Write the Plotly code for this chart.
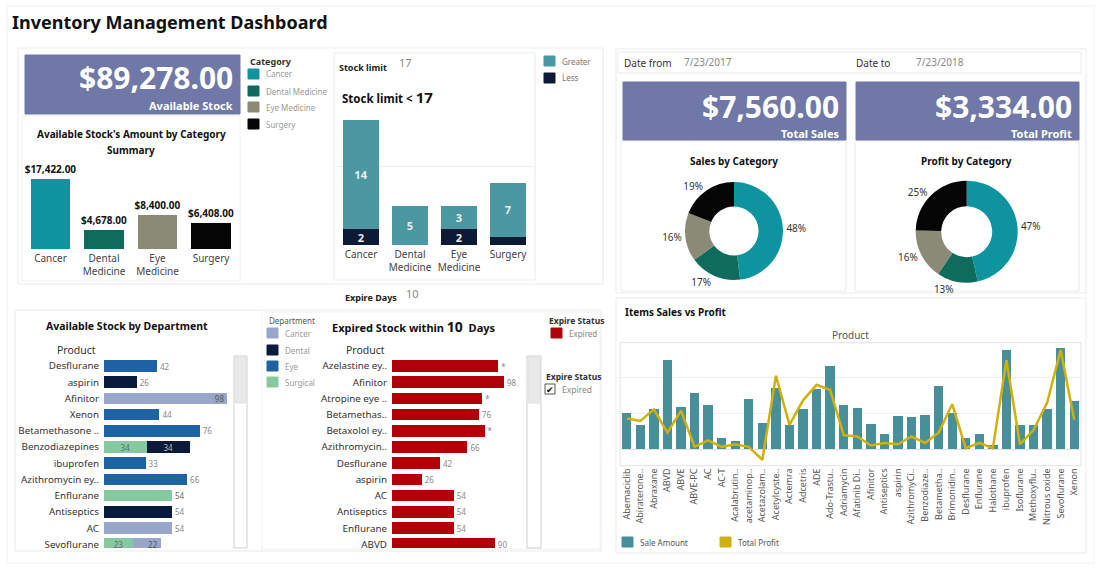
import plotly.graph_objects as go

W, H = 1100, 570
FONT = "Noto Sans"

# ---------------- data ----------------
cat_names = ["Cancer", "Dental<br>Medicine", "Eye<br>Medicine", "Surgery"]
cat_stock = [17422, 4678, 8400, 6408]
cat_stock_labels = ["$17,422.00", "$4,678.00", "$8,400.00", "$6,408.00"]

limit_greater = [14, 5, 3, 7]
limit_less = [2, 0, 2, 1]
limit_greater_labels = ["14", "5", "3", "7"]
limit_less_labels = ["2", "", "2", ""]

dept_products = ["Desflurane", "aspirin", "Afinitor", "Xenon", "Betamethasone ..",
                 "Benzodiazepines", "ibuprofen", "Azithromycin ey..", "Enflurane",
                 "Antiseptics", "AC", "Sevoflurane"]
dept_surgical = [None, None, None, None, None, 34, None, None, 54, None, None, 23]
dept_cancer = [None, None, 98, None, None, None, None, None, None, None, 54, 22]
dept_dental = [None, 26, None, None, None, 34, None, None, None, 54, None, None]
dept_eye = [42, None, None, 44, 76, None, 33, 66, None, None, None, None]

exp_products = ["Azelastine ey..", "Afinitor", "Atropine eye ..", "Betamethas..",
                "Betaxolol ey..", "Azithromycin..", "Desflurane", "aspirin", "AC",
                "Antiseptics", "Enflurane", "ABVD"]
exp_values = [93, 98, 79, 76, 81, 66, 42, 26, 54, 54, 54, 90]
exp_labels = ["*", "98", "*", "76", "*", "66", "42", "26", "54", "54", "54", "90"]

pie_labels = ["Cancer", "Dental Medicine", "Eye Medicine", "Surgery"]
sales_by_cat = [3629, 1285, 1210, 1436]
profit_by_cat = [1552, 430, 532, 820]

combo_products = ["Abemaciclib", "Abiraterone..", "Abraxane", "ABVD", "ABVE", "ABVE-PC",
                  "AC", "AC-T", "Acalabrutin..", "acetaminop..", "Acetazolam..",
                  "Acetylcyste..", "Actemra", "Adcetris", "ADE", "Ado-Trastu..",
                  "Adriamycin", "Afatinib Di..", "Afinitor", "Antiseptics", "aspirin",
                  "AzithromyCi..", "Benzodiaze..", "Betametha..", "Brimonidin..",
                  "Desflurane", "Enflurane", "Halothane", "ibuprofen", "Isoflurane",
                  "Methoxyflu..", "Nitrous oxide", "Sevoflurane", "Xenon"]
combo_sales = [200, 135, 225, 495, 235, 315, 245, 65, 45, 280, 145, 340, 135, 225,
               335, 465, 245, 230, 140, 85, 185, 180, 190, 350, 200, 65, 85, 25,
               550, 135, 135, 225, 565, 270]
combo_profit = [120, 110, 155, 65, 150, 10, 35, 10, 20, 10, -40, 285, 95, 190, 250,
                230, 55, 50, 15, 25, 20, 50, 25, 65, 175, 5, 25, 5, 345, 20, 75,
                180, 385, 115]

# ---------------- styles ----------------
KPI = "#6f78a6"
CAT_COLORS = ["#0e949f", "#0f6b5b", "#8a8a76", "#050505"]
GREATER, LESS = "#4b97a2", "#0c1a36"
D_CANCER, D_DENTAL, D_EYE, D_SURG = "#98a6cc", "#0a1a3a", "#1f62a3", "#85c9a1"
RED = "#b00008"
BAR_TEAL, GOLD = "#478f99", "#d0b00a"
GRAYTXT, DARK = "#9a9a9a", "#333333"


def X(px):
    return px / W


def Y(py):
    return 1 - py / H


def dx(a, b):
    return [X(a), X(b)]


def dy(top, bottom):
    return [Y(bottom), Y(top)]


fig = go.Figure()

# category chart
fig.add_trace(go.Bar(x=cat_names, y=cat_stock, marker=dict(color=CAT_COLORS, line=dict(width=0)),
                     width=0.73, text=cat_stock_labels, textposition="outside", cliponaxis=False,
                     constraintext="none", textangle=0,
                     textfont=dict(size=10, color="#111", family=FONT, weight="bold"),
                     xaxis="x", yaxis="y", showlegend=False))

# stock limit
fig.add_trace(go.Bar(x=cat_names, y=limit_less, marker=dict(color=LESS, line=dict(width=0)), width=0.735,
                     text=limit_less_labels, textposition="inside", insidetextanchor="middle",
                     constraintext="none", textangle=0,
                     textfont=dict(size=11, color="#e8e8e8", family=FONT, weight="bold"),
                     xaxis="x2", yaxis="y2", showlegend=False))
fig.add_trace(go.Bar(x=cat_names, y=limit_greater, marker=dict(color=GREATER, line=dict(width=0)), width=0.735,
                     text=limit_greater_labels, textposition="inside", insidetextanchor="middle",
                     constraintext="none", textangle=0,
                     textfont=dict(size=11, color="#eeeeee", family=FONT, weight="bold"),
                     xaxis="x2", yaxis="y2", showlegend=False))


def dept_trace(vals, color, positions, tcolors, anchor="middle"):
    txt = ["" if v is None else str(v) for v in vals]
    return go.Bar(y=dept_products, x=vals, orientation="h", marker=dict(color=color, line=dict(width=0)),
                  width=0.72, text=txt, textposition=positions, insidetextanchor=anchor,
                  cliponaxis=False, constraintext="none", textangle=0,
                  textfont=dict(size=8, color=tcolors, family=FONT),
                  xaxis="x3", yaxis="y3", showlegend=False)


def pos_list(vals, inside_idx):
    return ["inside" if i in inside_idx else "outside" for i in range(len(vals))]


fig.add_trace(dept_trace(dept_surgical, D_SURG, pos_list(dept_surgical, {5, 11}), "#666"))
fig.add_trace(dept_trace(dept_cancer, D_CANCER, pos_list(dept_cancer, {2, 11}),
                         ["#888" if i == 10 else "#555" for i in range(12)], anchor="end"))
fig.add_trace(dept_trace(dept_dental, D_DENTAL, pos_list(dept_dental, {5}),
                         ["#bbbbbb" if i == 5 else "#888" for i in range(12)]))
fig.add_trace(dept_trace(dept_eye, D_EYE, pos_list(dept_eye, set()), "#888"))

# expired chart
fig.add_trace(go.Bar(y=exp_products, x=exp_values, orientation="h", marker=dict(color=RED, line=dict(width=0)),
                     width=0.72, text=exp_labels, textposition="outside", cliponaxis=False,
                     constraintext="none", textangle=0,
                     textfont=dict(size=8, color="#888", family=FONT),
                     xaxis="x4", yaxis="y4", showlegend=False))

# pies
for vals, cx, cy, r in [(sales_by_cat, 734, 231, 49), (profit_by_cat, 966.7, 231.7, 51)]:
    fig.add_trace(go.Pie(labels=pie_labels, values=vals, hole=0.5, sort=False, direction="clockwise",
                         rotation=0, marker=dict(colors=CAT_COLORS, line=dict(width=0)),
                         textposition="outside", texttemplate="%{percent:.0%}",
                         textfont=dict(size=10, color=DARK, family=FONT), automargin=False,
                         domain=dict(x=dx(cx - r, cx + r), y=dy(cy - r, cy + r)), showlegend=False))

# combo
fig.add_trace(go.Bar(x=combo_products, y=combo_sales, marker=dict(color=BAR_TEAL, line=dict(width=0)),
                     width=0.69, xaxis="x5", yaxis="y5", showlegend=False))
fig.add_trace(go.Scatter(x=combo_products, y=combo_profit, mode="lines", line=dict(color=GOLD, width=2.5),
                         xaxis="x5", yaxis="y6", showlegend=False))

tick = dict(family=FONT, color="#444")
hide = dict(showgrid=False, zeroline=False, showticklabels=False, showline=False, ticks="", automargin=False)
base = dict(showgrid=False, zeroline=False, showline=False, ticks="", automargin=False)

fig.update_layout(
    template="none",
    width=W, height=H, margin=dict(l=0, r=0, t=0, b=0, autoexpand=False),
    paper_bgcolor="white", plot_bgcolor="rgba(0,0,0,0)",
    barmode="stack", font=dict(family=FONT, color=DARK),
    xaxis=dict(domain=dx(23.75, 237.75), anchor="y", tickfont=dict(size=10, **tick), ticklabelstandoff=2, **base),
    yaxis=dict(domain=dy(170, 249), anchor="x", range=[0, 19661], **hide),
    xaxis2=dict(domain=dx(336.5, 532.5), anchor="y2", tickfont=dict(size=10, **tick), ticklabelstandoff=2, **base),
    yaxis2=dict(domain=dy(110, 245), anchor="x2", range=[0, 17.3], showgrid=True, gridcolor="#ececec",
                dtick=10, zeroline=False, showticklabels=False, ticks="", automargin=False),
    xaxis3=dict(domain=dx(104, 229.9), anchor="y3", range=[0, 100], **hide),
    yaxis3=dict(domain=dy(357, 548), anchor="x3", range=[11.23, -0.556], ticklabelstandoff=4,
                tickfont=dict(size=9.8, family=FONT, color=DARK), **base),
    xaxis4=dict(domain=dx(392, 506.3), anchor="y4", range=[0, 100], **hide),
    yaxis4=dict(domain=dy(357, 548), anchor="x4", range=[11.23, -0.556], ticklabelstandoff=4,
                tickfont=dict(size=9.8, family=FONT, color=DARK), **base),
    xaxis5=dict(domain=dx(620, 1081), anchor="y5", range=[-0.5, 33.5], tickangle=-90,
                tickfont=dict(size=9, family=FONT, color="#555"), **base),
    yaxis5=dict(domain=dy(342.7, 465.7), anchor="x5", range=[-91, 593], dtick=200, showgrid=True,
                gridcolor="#eeeeee", zeroline=True, zerolinecolor="#e2e2e2", zerolinewidth=1,
                showticklabels=False, ticks="", showline=False, automargin=False),
    yaxis6=dict(overlaying="y5", anchor="x5", range=[-63, 413], **hide),
)

shapes = []


def rect(x0, y0, x1, y1, fill="rgba(0,0,0,0)", lc="#ebebeb", lw=1, layer="below"):
    shapes.append(dict(type="rect", xref="paper", yref="paper", x0=X(x0), x1=X(x1), y0=Y(y1), y1=Y(y0),
                       fillcolor=fill, line=dict(color=lc, width=lw), layer=layer))


ann = []


def text(t, x, y, size=10, color=DARK, xanchor="left", bold=False):
    if bold:
        t = "<b>" + t + "</b>"
    ann.append(dict(text=t, x=X(x), y=Y(y), xref="paper", yref="paper", showarrow=False,
                    xanchor=xanchor, yanchor="middle", font=dict(size=size, color=color, family=FONT)))


# panel borders
rect(7, 6, 1094, 563, lc="#f0f0f0")
rect(18, 48, 603, 284)
rect(22, 116, 240, 281, lc="#f0f0f0")
rect(334, 53, 535, 280)
rect(15, 310, 601, 551)
rect(262, 312, 600, 549, lc="#f0f0f0")
rect(616, 49, 1086, 293)
rect(618, 52, 1081, 73)
rect(621, 141, 846, 291)
rect(855, 141, 1079, 291)
rect(616, 298, 1086, 553)
rect(620, 342.7, 1081, 465.7, lc="#e2e2e2")

# title
text("Inventory Management Dashboard", 10, 22, size=18, color="#111", bold=True)

# KPI available stock
rect(25, 55, 240, 114, fill=KPI, lc=KPI)
text("$89,278.00", 235, 78, size=30, color="white", xanchor="right", bold=True)
text("Available Stock", 235, 105, size=11, color="white", xanchor="right", bold=True)
text("Available Stock's Amount by Category", 131, 134, size=10, color="#111", xanchor="center", bold=True)
text("Summary", 131, 150, size=10, color="#111", xanchor="center", bold=True)


def legend_item(x, ytop, color, label, tcolor=GRAYTXT, size=8):
    rect(x, ytop, x + 11, ytop + 10, fill=color, lc=color, layer="above")
    text(label, x + 16, ytop + 5, size=size, color=tcolor)


text("Category", 248, 61, size=9, bold=True)
for c, lab, yt in zip(CAT_COLORS, ["Cancer", "Dental Medicine", "Eye Medicine", "Surgery"], [69, 86, 102, 119]):
    legend_item(248, yt, c, lab)

# stock limit
text("Stock limit", 337, 67, size=9, bold=True, color="#222")
text("17", 397, 62, size=11, color="#888")
text("Stock limit &lt; <span style='font-size:15px'>17</span>", 340, 97, size=11.5, color="#111", bold=True)
legend_item(544, 56, GREATER, "Greater", tcolor="#777")
legend_item(544, 73, LESS, "Less", tcolor="#777")

text("Expire Days", 343, 297, size=9, bold=True, color="#222")
text("10", 404, 293, size=11, color="#888")

# department chart
text("Available Stock by Department", 127, 326, size=10.5, color="#111", xanchor="center", bold=True)
text("Product", 98, 350, size=10.5, color=DARK, xanchor="right")
rect(234, 356, 247, 548, fill="white", lc="#cfcfcf", layer="above")
rect(235, 357, 246, 403, fill="#e9e9e9", lc="#e0e0e0", layer="above")

text("Department", 267, 320, size=8, color="#555")
for c, lab, yt in zip([D_CANCER, D_DENTAL, D_EYE, D_SURG], ["Cancer", "Dental", "Eye", "Surgical"],
                      [328, 345, 361, 377]):
    legend_item(267, yt, c, lab)

# expired chart
text("Expired Stock within <span style='font-size:14px'>10</span>  Days", 330, 326, size=11, color="#111", bold=True)
text("Product", 387, 350, size=10.5, color=DARK, xanchor="right")
rect(527, 356, 541, 548, fill="white", lc="#cfcfcf", layer="above")
rect(528, 357, 540, 403, fill="#e9e9e9", lc="#e0e0e0", layer="above")
text("Expire Status", 547, 320, size=8.5, color="#333", bold=True)
legend_item(551, 328, RED, "Expired", tcolor="#888")
text("Expire Status", 544, 376, size=8.5, color="#333", bold=True)
rect(545, 384, 555, 394, fill="white", lc="#555", layer="above")
text("✔", 550, 389, size=9, color="#111", xanchor="center")
text("Expired", 560, 389, size=8.5, color="#888")

# right top
text("Date from", 622, 63, size=10, color=DARK)
text("7/23/2017", 682, 62, size=10, color="#888")
text("Date to", 854, 63, size=10, color=DARK)
text("7/23/2018", 914, 62, size=10, color="#888")
rect(623, 82, 846, 140, fill=KPI, lc=KPI)
rect(856, 82, 1079, 140, fill=KPI, lc=KPI)
text("$7,560.00", 841, 106, size=30, color="white", xanchor="right", bold=True)
text("Total Sales", 841, 133, size=11, color="white", xanchor="right", bold=True)
text("$3,334.00", 1074, 106, size=30, color="white", xanchor="right", bold=True)
text("Total Profit", 1074, 133, size=11, color="white", xanchor="right", bold=True)
text("Sales by Category", 734, 161, size=10, color="#111", xanchor="center", bold=True)
text("Profit by Category", 966, 161, size=10, color="#111", xanchor="center", bold=True)

# combo
text("Items Sales vs Profit", 623, 312, size=10, color="#111", bold=True)
text("Product", 850, 335, size=10, color="#555", xanchor="center")
legend_item(622, 537, BAR_TEAL, "Sale Amount", tcolor="#555")
legend_item(720, 537, GOLD, "Total Profit", tcolor="#555")

fig.update_layout(shapes=shapes, annotations=ann)
fig.write_html("out.html")
